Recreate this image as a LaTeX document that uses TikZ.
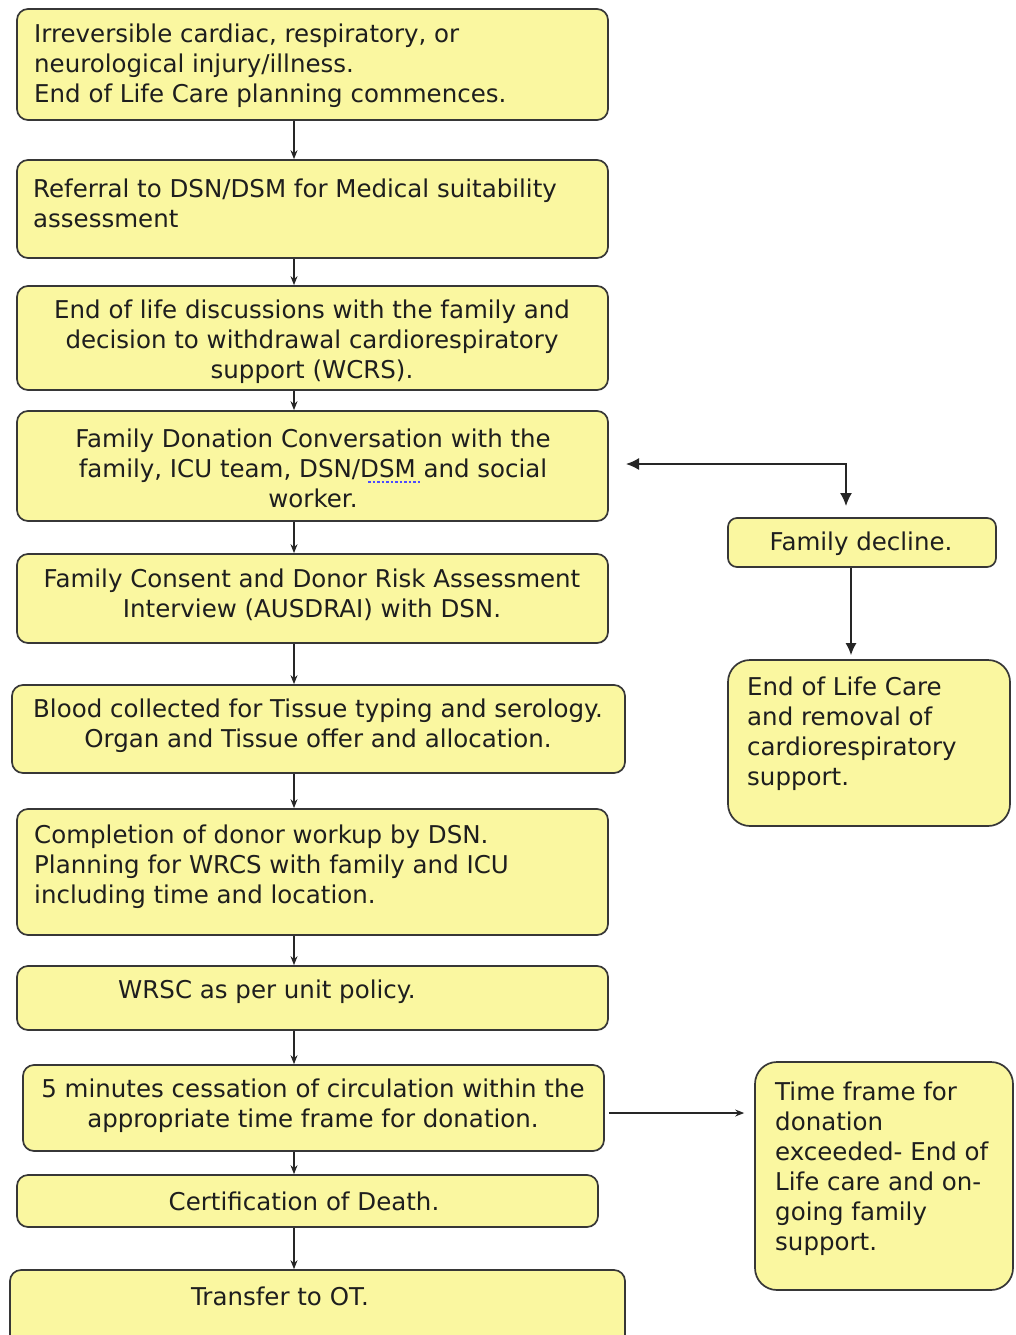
\documentclass[tikz,border=0pt]{standalone}
\usepackage{fontspec}
\setmainfont{DejaVu Sans}
\usetikzlibrary{arrows.meta,fit,calc}
\definecolor{boxfill}{RGB}{250,247,160}
\definecolor{boxline}{RGB}{55,55,55}
\definecolor{txtcol}{RGB}{30,30,30}
\begin{document}
\begin{tikzpicture}[x=1pt,y=-1pt,
  box/.style={draw=boxline, fill=boxfill, line width=1.7pt, rounded corners=11pt, inner sep=0pt},
  bigbox/.style={box, rounded corners=22pt},
  txt/.style={font=\fontsize{24.5}{30}\selectfont, inner sep=0pt, text=txtcol},
  flow/.style={draw=black!85, line width=1.2pt, -{Stealth[length=9pt,width=7pt]}},
  bigflow/.style={draw=black!85, line width=1.4pt},
]
\useasboundingbox (0,0) rectangle (1015,1335);
\clip (0,0) rectangle (1015,1335);
\fill[white] (0,0) rectangle (1015,1335);

% boxes
\node[box, fit={(17,9) (608,120)}] (b1) {};
\node[box, fit={(17,160) (608,258)}] (b2) {};
\node[box, fit={(17,286) (608,390)}] (b3) {};
\node[box, fit={(17,411) (608,521)}] (b4) {};
\node[box, fit={(17,554) (608,643)}] (b5) {};
\node[box, fit={(12,685) (625,773)}] (b6) {};
\node[box, fit={(17,809) (608,935)}] (b7) {};
\node[box, fit={(17,966) (608,1030)}] (b8) {};
\node[box, fit={(23,1065) (604,1151)}] (b9) {};
\node[box, fit={(17,1175) (598,1227)}] (b10) {};
\node[box, fit={(10,1270) (625,1360)}] (b11) {};
\node[box, rounded corners=9pt, fit={(728,518) (996,567)}] (fd) {};
\node[bigbox, fit={(728,660) (1010,826)}] (eol) {};
\node[bigbox, fit={(755,1062) (1013,1290)}] (tf) {};

% texts
\node[txt, align=left, anchor=west] (t1) at (34,66) {Irreversible cardiac, respiratory, or\\neurological injury/illness.\\End of Life Care planning commences.};
\node[txt, align=left, anchor=west] (t2) at (33,203) {Referral to DSN/DSM for Medical suitability\\assessment};
\node[txt, align=center] (t3) at (312,342) {End of life discussions with the family and\\decision to withdrawal cardiorespiratory\\support (WCRS).};
\node[txt, align=center] (t4) at (313,468) {Family Donation Conversation with the\\family, ICU team, DSN/DSM and social\\worker.};
\node[txt, align=center] (t5) at (312,595) {Family Consent and Donor Risk Assessment\\Interview (AUSDRAI) with DSN.};
\node[txt, align=center] (t6) at (318,726) {Blood collected for Tissue typing and serology.\\Organ and Tissue offer and allocation.};
\node[txt, align=left, anchor=west] (t7) at (34,867) {Completion of donor workup by DSN.\\Planning for WRCS with family and ICU\\including time and location.};
\node[txt, anchor=west] (t8) at (118,992) {WRSC as per unit policy.};
\node[txt, align=center] (t9) at (313,1106) {5 minutes cessation of circulation within the\\appropriate time frame for donation.};
\node[txt] (t10) at (304,1201) {Certification of Death.};
\node[txt] (t11) at (280,1296) {Transfer to OT.};
\node[txt] (tfd) at (861,544) {Family decline.};
\node[txt, align=left, anchor=west] (teol) at (747,734) {End of Life Care\\and removal of\\cardiorespiratory\\support.};
\node[txt, align=left, anchor=west] (ttf) at (775,1169) {Time frame for\\donation\\exceeded- End of\\Life care and on-\\going family\\support.};

% spell-check mark under DSM
\draw[blue!70, line width=1.2pt, dash pattern=on 2.5pt off 2pt] (368,482) -- (420,482);

% spine connectors
\coordinate (spine) at (294,0);
\draw[flow] (b1.south -| spine) -- (b2.north -| spine);
\draw[flow] (b2.south -| spine) -- (b3.north -| spine);
\draw[flow] (b3.south -| spine) -- (b4.north -| spine);
\draw[flow] (b4.south -| spine) -- (b5.north -| spine);
\draw[flow] (b5.south -| spine) -- (b6.north -| spine);
\draw[flow] (b6.south -| spine) -- (b7.north -| spine);
\draw[flow] (b7.south -| spine) -- (b8.north -| spine);
\draw[flow] (b8.south -| spine) -- (b9.north -| spine);
\draw[flow] (b9.south -| spine) -- (b10.north -| spine);
\draw[flow] (b10.south -| spine) -- (b11.north -| spine);

% side connectors
\coordinate (dctip) at (626,464);
\coordinate (fdin) at (846,506);
\draw[bigflow, {Latex[length=13pt,width=12pt]}-{Latex[length=13pt,width=12pt]}] (dctip) -| (fdin);
\coordinate (fdx) at (851,0);
\draw[bigflow, -{Latex[length=12pt,width=11pt]}, shorten >=4pt] (fd.south -| fdx) -- (eol.north -| fdx);
\coordinate (tfy) at (0,1113);
\draw[flow] ($(b9.east |- tfy)+(4,0)$) -- ($(tf.west |- tfy)+(-10,0)$);
\end{tikzpicture}
\end{document}
